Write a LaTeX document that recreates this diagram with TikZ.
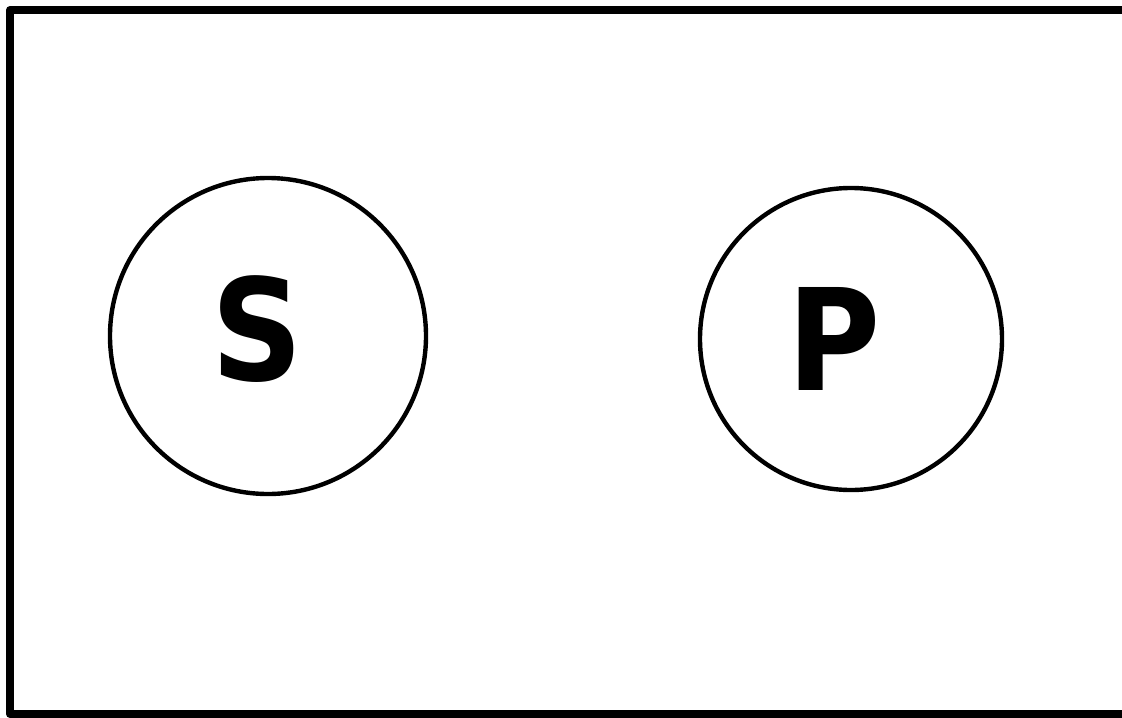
\documentclass[tikz,border=0pt]{standalone}
\usepackage{fontspec}
\setmainfont{DejaVu Sans}
\newfontfamily\letterfont{DejaVu Sans Condensed}
\begin{document}
\begin{tikzpicture}[x=0.75pt, y=-0.75pt, line join=round, line cap=round]
	\useasboundingbox (0,0) rectangle (1122,718);
	\clip (0,0) rectangle (1122,718);
	
	\path (268,336) coordinate (Sc)
	(851,339) coordinate (Pc);
	
	% frame, its right side runs off the page
	\draw[line width=6pt, line cap=butt] (1140,10) -- (10,10) -- (10,714) -- (1140,714);
	
	\draw[line width=3.3pt] (Sc) circle (158) (Pc) circle (151);
	
	\path (257,329) node[font=\fontsize{106}{106}\letterfont\bfseries] (S) {S}
	(834,339) node[font=\fontsize{106}{106}\letterfont\bfseries] (P) {P};
\end{tikzpicture}
\end{document}
